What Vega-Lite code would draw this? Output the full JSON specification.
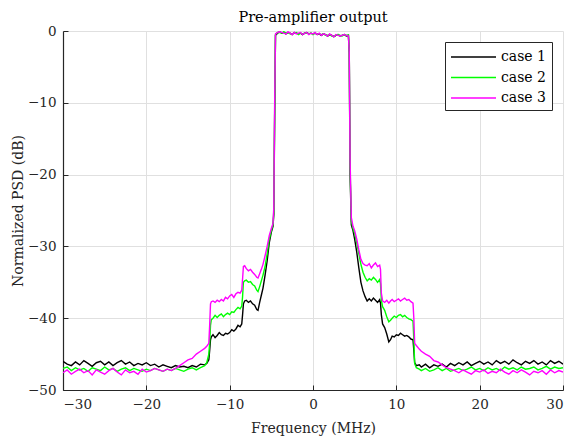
{
  "$schema": "https://vega.github.io/schema/vega-lite/v6.json",
  "width": 500,
  "height": 359,
  "autosize": {"type": "none"},
  "padding": {"left": 63, "top": 31, "right": 8, "bottom": 50},
  "background": "white",
  "title": {"text": "Pre-amplifier output", "font": "DejaVu Serif", "fontSize": 14.5, "fontWeight": "normal", "color": "#000000", "offset": -1},
  "config": {
    "view": {"stroke": null},
    "font": "DejaVu Serif"
  },
  "data": {"values": [
    {"f":-30,"case 1":-46.0,"case 2":-47.0,"case 3":-47.6},
    {"f":-29.5,"case 1":-46.4,"case 2":-46.8,"case 3":-47.2},
    {"f":-29,"case 1":-46.6,"case 2":-47.3,"case 3":-47.8},
    {"f":-28.5,"case 1":-46.1,"case 2":-46.9,"case 3":-47.4},
    {"f":-28,"case 1":-46.5,"case 2":-47.2,"case 3":-47.1},
    {"f":-27.5,"case 1":-45.9,"case 2":-47.0,"case 3":-47.6},
    {"f":-27,"case 1":-46.3,"case 2":-47.4,"case 3":-47.3},
    {"f":-26.5,"case 1":-46.7,"case 2":-46.9,"case 3":-47.9},
    {"f":-26,"case 1":-46.2,"case 2":-47.1,"case 3":-47.2},
    {"f":-25.5,"case 1":-46.0,"case 2":-47.3,"case 3":-47.5},
    {"f":-25,"case 1":-46.5,"case 2":-46.8,"case 3":-47.8},
    {"f":-24.5,"case 1":-46.1,"case 2":-47.2,"case 3":-47.3},
    {"f":-24,"case 1":-46.6,"case 2":-47.0,"case 3":-47.0},
    {"f":-23.5,"case 1":-46.2,"case 2":-47.4,"case 3":-47.5},
    {"f":-23,"case 1":-45.9,"case 2":-47.1,"case 3":-47.9},
    {"f":-22.5,"case 1":-46.4,"case 2":-46.9,"case 3":-47.2},
    {"f":-22,"case 1":-46.1,"case 2":-47.3,"case 3":-47.6},
    {"f":-21.5,"case 1":-46.6,"case 2":-47.0,"case 3":-47.4},
    {"f":-21,"case 1":-46.3,"case 2":-47.2,"case 3":-47.8},
    {"f":-20.5,"case 1":-46.5,"case 2":-47.4,"case 3":-47.1},
    {"f":-20,"case 1":-46.2,"case 2":-47.1,"case 3":-47.5},
    {"f":-19.5,"case 1":-46.6,"case 2":-47.3,"case 3":-47.3},
    {"f":-19,"case 1":-46.4,"case 2":-47.0,"case 3":-47.0},
    {"f":-18.5,"case 1":-46.8,"case 2":-47.2,"case 3":-47.2},
    {"f":-18,"case 1":-46.5,"case 2":-47.4,"case 3":-47.4},
    {"f":-17.5,"case 1":-46.7,"case 2":-47.1,"case 3":-47.1},
    {"f":-17,"case 1":-46.9,"case 2":-47.3,"case 3":-47.3},
    {"f":-16.5,"case 1":-46.6,"case 2":-47.0,"case 3":-47.0},
    {"f":-16,"case 1":-46.8,"case 2":-47.2,"case 3":-46.6},
    {"f":-15.5,"case 1":-46.7,"case 2":-47.4,"case 3":-46.2},
    {"f":-15,"case 1":-46.9,"case 2":-47.1,"case 3":-45.8},
    {"f":-14.5,"case 1":-46.6,"case 2":-46.9,"case 3":-45.6},
    {"f":-14,"case 1":-46.8,"case 2":-47.2,"case 3":-45.0},
    {"f":-13.5,"case 1":-46.4,"case 2":-46.9,"case 3":-44.6},
    {"f":-13,"case 1":-46.5,"case 2":-46.6,"case 3":-44.2},
    {"f":-12.75,"case 1":-46.3,"case 2":-46.2,"case 3":-43.9},
    {"f":-12.5,"case 1":-45.8,"case 2":-45.0,"case 3":-43.5},
    {"f":-12.4,"case 1":-44.5,"case 2":-43.5,"case 3":-41.0},
    {"f":-12.3,"case 1":-43.0,"case 2":-41.0,"case 3":-38.0},
    {"f":-12.2,"case 1":-42.6,"case 2":-40.2,"case 3":-37.7},
    {"f":-12,"case 1":-42.3,"case 2":-40.0,"case 3":-37.6},
    {"f":-11.75,"case 1":-42.7,"case 2":-39.6,"case 3":-37.8},
    {"f":-11.5,"case 1":-42.4,"case 2":-39.9,"case 3":-37.5},
    {"f":-11.25,"case 1":-42.0,"case 2":-39.6,"case 3":-37.7},
    {"f":-11,"case 1":-42.3,"case 2":-39.4,"case 3":-37.4},
    {"f":-10.75,"case 1":-42.4,"case 2":-39.8,"case 3":-37.6},
    {"f":-10.5,"case 1":-42.1,"case 2":-39.5,"case 3":-37.1},
    {"f":-10.25,"case 1":-42.2,"case 2":-39.3,"case 3":-37.3},
    {"f":-10,"case 1":-42.0,"case 2":-39.5,"case 3":-36.9},
    {"f":-9.75,"case 1":-41.6,"case 2":-39.1,"case 3":-36.7},
    {"f":-9.5,"case 1":-41.8,"case 2":-39.2,"case 3":-37.1},
    {"f":-9.25,"case 1":-41.5,"case 2":-38.8,"case 3":-36.6},
    {"f":-9,"case 1":-41.0,"case 2":-38.5,"case 3":-36.4},
    {"f":-8.75,"case 1":-41.2,"case 2":-38.7,"case 3":-36.5},
    {"f":-8.55,"case 1":-40.8,"case 2":-38.3,"case 3":-36.1},
    {"f":-8.45,"case 1":-39.5,"case 2":-37.0,"case 3":-34.5},
    {"f":-8.35,"case 1":-38.0,"case 2":-35.0,"case 3":-32.8},
    {"f":-8.2,"case 1":-37.6,"case 2":-34.8,"case 3":-32.7},
    {"f":-8,"case 1":-37.5,"case 2":-34.7,"case 3":-33.1},
    {"f":-7.75,"case 1":-37.8,"case 2":-35.0,"case 3":-33.4},
    {"f":-7.5,"case 1":-37.6,"case 2":-34.9,"case 3":-33.2},
    {"f":-7.25,"case 1":-38.0,"case 2":-35.3,"case 3":-33.6},
    {"f":-7,"case 1":-38.2,"case 2":-35.5,"case 3":-33.9},
    {"f":-6.75,"case 1":-38.8,"case 2":-36.1,"case 3":-34.3},
    {"f":-6.6,"case 1":-38.9,"case 2":-36.3,"case 3":-34.4},
    {"f":-6.4,"case 1":-37.8,"case 2":-35.6,"case 3":-33.8},
    {"f":-6.2,"case 1":-36.8,"case 2":-34.8,"case 3":-33.2},
    {"f":-6,"case 1":-35.8,"case 2":-34.0,"case 3":-32.5},
    {"f":-5.75,"case 1":-34.0,"case 2":-32.8,"case 3":-31.3},
    {"f":-5.5,"case 1":-32.0,"case 2":-31.0,"case 3":-30.0},
    {"f":-5.25,"case 1":-29.5,"case 2":-29.0,"case 3":-28.5},
    {"f":-5,"case 1":-28.0,"case 2":-27.8,"case 3":-27.5},
    {"f":-4.8,"case 1":-27.2,"case 2":-27.0,"case 3":-26.8},
    {"f":-4.7,"case 1":-25.5,"case 2":-25.0,"case 3":-24.5},
    {"f":-4.6,"case 1":-12.0,"case 2":-11.0,"case 3":-10.0},
    {"f":-4.5,"case 1":-0.6,"case 2":-0.5,"case 3":-0.4},
    {"f":-4.25,"case 1":-0.3,"case 2":-0.2,"case 3":-0.2},
    {"f":-4,"case 1":-0.1,"case 2":-0.2,"case 3":-0.1},
    {"f":-3.75,"case 1":-0.3,"case 2":-0.3,"case 3":-0.2},
    {"f":-3.5,"case 1":-0.2,"case 2":-0.1,"case 3":-0.3},
    {"f":-3.25,"case 1":-0.4,"case 2":-0.3,"case 3":-0.4},
    {"f":-3,"case 1":-0.2,"case 2":-0.2,"case 3":-0.1},
    {"f":-2.75,"case 1":-0.3,"case 2":-0.4,"case 3":-0.3},
    {"f":-2.5,"case 1":-0.5,"case 2":-0.4,"case 3":-0.5},
    {"f":-2.25,"case 1":-0.2,"case 2":-0.3,"case 3":-0.2},
    {"f":-2,"case 1":-0.3,"case 2":-0.2,"case 3":-0.4},
    {"f":-1.75,"case 1":-0.4,"case 2":-0.5,"case 3":-0.3},
    {"f":-1.5,"case 1":-0.3,"case 2":-0.3,"case 3":-0.2},
    {"f":-1.25,"case 1":-0.5,"case 2":-0.4,"case 3":-0.5},
    {"f":-1,"case 1":-0.3,"case 2":-0.3,"case 3":-0.3},
    {"f":-0.75,"case 1":-0.2,"case 2":-0.3,"case 3":-0.2},
    {"f":-0.5,"case 1":-0.4,"case 2":-0.4,"case 3":-0.5},
    {"f":-0.25,"case 1":-0.3,"case 2":-0.3,"case 3":-0.3},
    {"f":0,"case 1":-0.4,"case 2":-0.5,"case 3":-0.4},
    {"f":0.25,"case 1":-0.3,"case 2":-0.3,"case 3":-0.2},
    {"f":0.5,"case 1":-0.5,"case 2":-0.4,"case 3":-0.5},
    {"f":0.75,"case 1":-0.4,"case 2":-0.4,"case 3":-0.3},
    {"f":1,"case 1":-0.6,"case 2":-0.5,"case 3":-0.6},
    {"f":1.25,"case 1":-0.4,"case 2":-0.4,"case 3":-0.4},
    {"f":1.5,"case 1":-0.5,"case 2":-0.6,"case 3":-0.5},
    {"f":1.75,"case 1":-0.7,"case 2":-0.6,"case 3":-0.7},
    {"f":2,"case 1":-0.5,"case 2":-0.5,"case 3":-0.4},
    {"f":2.25,"case 1":-0.6,"case 2":-0.7,"case 3":-0.6},
    {"f":2.5,"case 1":-0.8,"case 2":-0.7,"case 3":-0.8},
    {"f":2.75,"case 1":-0.6,"case 2":-0.6,"case 3":-0.5},
    {"f":3,"case 1":-0.5,"case 2":-0.5,"case 3":-0.6},
    {"f":3.25,"case 1":-0.7,"case 2":-0.6,"case 3":-0.7},
    {"f":3.5,"case 1":-0.6,"case 2":-0.7,"case 3":-0.6},
    {"f":3.75,"case 1":-0.5,"case 2":-0.5,"case 3":-0.5},
    {"f":4,"case 1":-0.7,"case 2":-0.6,"case 3":-0.6},
    {"f":4.25,"case 1":-0.6,"case 2":-0.6,"case 3":-0.7},
    {"f":4.35,"case 1":-3.0,"case 2":-3.0,"case 3":-3.0},
    {"f":4.45,"case 1":-20.0,"case 2":-19.0,"case 3":-18.0},
    {"f":4.6,"case 1":-27.0,"case 2":-26.5,"case 3":-26.0},
    {"f":4.8,"case 1":-27.8,"case 2":-27.5,"case 3":-27.2},
    {"f":5,"case 1":-29.0,"case 2":-28.2,"case 3":-27.8},
    {"f":5.25,"case 1":-30.8,"case 2":-29.5,"case 3":-29.0},
    {"f":5.5,"case 1":-33.0,"case 2":-31.0,"case 3":-30.5},
    {"f":5.75,"case 1":-35.0,"case 2":-32.5,"case 3":-31.8},
    {"f":6,"case 1":-36.2,"case 2":-33.6,"case 3":-32.4},
    {"f":6.25,"case 1":-37.0,"case 2":-34.3,"case 3":-32.6},
    {"f":6.5,"case 1":-37.6,"case 2":-34.8,"case 3":-32.7},
    {"f":6.75,"case 1":-37.3,"case 2":-34.5,"case 3":-32.4},
    {"f":7,"case 1":-37.6,"case 2":-34.7,"case 3":-33.0},
    {"f":7.25,"case 1":-37.2,"case 2":-34.3,"case 3":-32.6},
    {"f":7.5,"case 1":-37.5,"case 2":-34.6,"case 3":-32.3},
    {"f":7.75,"case 1":-37.8,"case 2":-35.0,"case 3":-32.8},
    {"f":8,"case 1":-37.4,"case 2":-34.6,"case 3":-32.6},
    {"f":8.1,"case 1":-37.9,"case 2":-35.2,"case 3":-33.2},
    {"f":8.2,"case 1":-39.5,"case 2":-37.5,"case 3":-36.5},
    {"f":8.35,"case 1":-40.8,"case 2":-38.4,"case 3":-37.6},
    {"f":8.6,"case 1":-41.3,"case 2":-38.9,"case 3":-37.8},
    {"f":8.85,"case 1":-42.2,"case 2":-39.8,"case 3":-37.5},
    {"f":9.1,"case 1":-43.3,"case 2":-40.5,"case 3":-37.9},
    {"f":9.3,"case 1":-43.0,"case 2":-40.3,"case 3":-37.6},
    {"f":9.5,"case 1":-42.5,"case 2":-40.0,"case 3":-37.4},
    {"f":9.75,"case 1":-42.6,"case 2":-39.7,"case 3":-37.7},
    {"f":10,"case 1":-42.3,"case 2":-39.9,"case 3":-37.5},
    {"f":10.25,"case 1":-42.4,"case 2":-39.6,"case 3":-37.3},
    {"f":10.5,"case 1":-42.1,"case 2":-39.5,"case 3":-37.6},
    {"f":10.75,"case 1":-42.3,"case 2":-39.8,"case 3":-37.4},
    {"f":11,"case 1":-42.5,"case 2":-39.6,"case 3":-37.2},
    {"f":11.25,"case 1":-42.4,"case 2":-39.9,"case 3":-37.5},
    {"f":11.5,"case 1":-42.6,"case 2":-40.1,"case 3":-37.4},
    {"f":11.75,"case 1":-42.9,"case 2":-40.2,"case 3":-37.7},
    {"f":12,"case 1":-43.0,"case 2":-40.4,"case 3":-37.9},
    {"f":12.1,"case 1":-44.5,"case 2":-43.0,"case 3":-40.0},
    {"f":12.2,"case 1":-46.2,"case 2":-46.3,"case 3":-43.5},
    {"f":12.4,"case 1":-46.6,"case 2":-46.9,"case 3":-43.8},
    {"f":12.75,"case 1":-46.5,"case 2":-47.1,"case 3":-44.3},
    {"f":13,"case 1":-46.8,"case 2":-47.3,"case 3":-44.6},
    {"f":13.5,"case 1":-46.4,"case 2":-47.0,"case 3":-45.0},
    {"f":14,"case 1":-46.9,"case 2":-47.4,"case 3":-45.3},
    {"f":14.5,"case 1":-46.5,"case 2":-47.2,"case 3":-45.9},
    {"f":15,"case 1":-46.7,"case 2":-46.9,"case 3":-46.1},
    {"f":15.5,"case 1":-46.4,"case 2":-47.3,"case 3":-46.5},
    {"f":16,"case 1":-46.8,"case 2":-47.0,"case 3":-46.9},
    {"f":16.5,"case 1":-46.3,"case 2":-47.4,"case 3":-47.1},
    {"f":17,"case 1":-46.6,"case 2":-47.2,"case 3":-47.3},
    {"f":17.5,"case 1":-46.2,"case 2":-47.0,"case 3":-47.6},
    {"f":18,"case 1":-46.5,"case 2":-47.3,"case 3":-47.2},
    {"f":18.5,"case 1":-46.1,"case 2":-47.1,"case 3":-47.5},
    {"f":19,"case 1":-46.6,"case 2":-46.8,"case 3":-47.8},
    {"f":19.5,"case 1":-46.3,"case 2":-47.2,"case 3":-47.3},
    {"f":20,"case 1":-46.0,"case 2":-47.0,"case 3":-47.5},
    {"f":20.5,"case 1":-46.4,"case 2":-47.3,"case 3":-47.2},
    {"f":21,"case 1":-46.1,"case 2":-46.9,"case 3":-47.7},
    {"f":21.5,"case 1":-46.5,"case 2":-47.2,"case 3":-47.4},
    {"f":22,"case 1":-45.9,"case 2":-47.0,"case 3":-47.6},
    {"f":22.5,"case 1":-46.3,"case 2":-47.3,"case 3":-47.1},
    {"f":23,"case 1":-46.0,"case 2":-46.8,"case 3":-47.5},
    {"f":23.5,"case 1":-46.4,"case 2":-47.1,"case 3":-47.8},
    {"f":24,"case 1":-45.8,"case 2":-46.9,"case 3":-47.3},
    {"f":24.5,"case 1":-46.2,"case 2":-47.2,"case 3":-47.6},
    {"f":25,"case 1":-46.5,"case 2":-46.8,"case 3":-47.2},
    {"f":25.5,"case 1":-46.0,"case 2":-47.1,"case 3":-47.5},
    {"f":26,"case 1":-46.3,"case 2":-47.0,"case 3":-47.9},
    {"f":26.5,"case 1":-45.9,"case 2":-46.8,"case 3":-47.4},
    {"f":27,"case 1":-46.4,"case 2":-47.2,"case 3":-47.6},
    {"f":27.5,"case 1":-46.1,"case 2":-47.0,"case 3":-47.3},
    {"f":28,"case 1":-46.5,"case 2":-46.7,"case 3":-47.8},
    {"f":28.5,"case 1":-45.9,"case 2":-47.1,"case 3":-47.2},
    {"f":29,"case 1":-46.3,"case 2":-46.8,"case 3":-47.6},
    {"f":29.5,"case 1":-46.0,"case 2":-47.0,"case 3":-47.3},
    {"f":30,"case 1":-46.4,"case 2":-46.9,"case 3":-47.5}
  ]},
  "transform": [
    {"fold": ["case 1", "case 2", "case 3"], "as": ["series", "psd"]}
  ],
  "mark": {"type": "line", "strokeWidth": 1.4, "clip": true},
  "encoding": {
    "x": {
      "field": "f", "type": "quantitative",
      "scale": {"domain": [-30, 30], "nice": false, "zero": false},
      "axis": {
        "title": "Frequency (MHz)", "values": [-30, -20, -10, 0, 10, 20, 30],
        "titleFont": "DejaVu Serif", "titleFontSize": 14, "titleFontWeight": "normal", "titleColor": "#262626", "titlePadding": 11,
        "labelFont": "DejaVu Serif", "labelFontSize": 13.5, "labelColor": "#262626", "labelPadding": 12,
        "tickSize": -5, "tickColor": "#262626", "domainColor": "#262626", "domainWidth": 1.2,
        "grid": true, "gridColor": "#e0e0e0", "gridWidth": 1
      }
    },
    "y": {
      "field": "psd", "type": "quantitative",
      "scale": {"domain": [-50, 0], "nice": false, "zero": false},
      "axis": {
        "title": "Normalized PSD (dB)", "values": [-50, -40, -30, -20, -10, 0],
        "titleFont": "DejaVu Serif", "titleFontSize": 14, "titleFontWeight": "normal", "titleColor": "#262626", "titlePadding": 2,
        "labelFont": "DejaVu Serif", "labelFontSize": 13.5, "labelColor": "#262626", "labelPadding": 12,
        "tickSize": -5, "tickColor": "#262626", "domainColor": "#262626", "domainWidth": 1.2,
        "grid": true, "gridColor": "#e0e0e0", "gridWidth": 1
      }
    },
    "color": {
      "field": "series", "type": "nominal",
      "scale": {"domain": ["case 1", "case 2", "case 3"], "range": ["#000000", "#00ff00", "#ff00ff"]},
      "legend": {
        "title": null, "orient": "none", "legendX": 382, "legendY": 11,
        "symbolType": "M-2.5,0H2.5", "symbolSize": 324, "symbolStrokeWidth": 1.4, "symbolOffset": 13.5,
        "labelFont": "DejaVu Serif", "labelFontSize": 14, "labelColor": "#000000", "labelOffset": 17.5,
        "strokeColor": "#262626", "fillColor": "white", "padding": 5, "rowPadding": 3.5
      }
    }
  }
}
